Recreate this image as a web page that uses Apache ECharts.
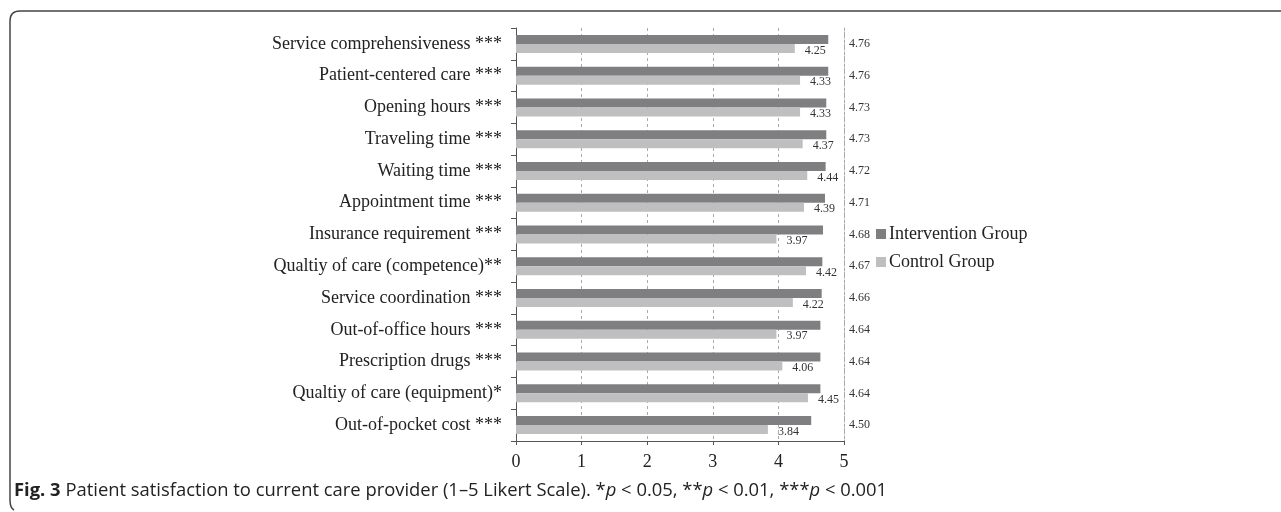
<!DOCTYPE html>
<html>
<head>
<meta charset="utf-8">
<script src="https://cdn.jsdelivr.net/npm/echarts@6/dist/echarts.min.js"></script>
<style>
  html, body { margin: 0; padding: 0; background: #fff; }
  #chart { width: 1281px; height: 512px; }
</style>
</head>
<body>
<div id="chart"></div>
<script>
const categories = [
  'Service comprehensiveness ***',
  'Patient-centered care ***',
  'Opening hours ***',
  'Traveling time ***',
  'Waiting time ***',
  'Appointment time ***',
  'Insurance requirement ***',
  'Qualtiy of care (competence)**',
  'Service coordination ***',
  'Out-of-office hours ***',
  'Prescription drugs ***',
  'Qualtiy of care (equipment)*',
  'Out-of-pocket cost ***'
]
const intervention = [4.76, 4.76, 4.73, 4.73, 4.72, 4.71, 4.68, 4.67, 4.66, 4.64, 4.64, 4.64, 4.50]
const control = [4.25, 4.33, 4.33, 4.37, 4.44, 4.39, 3.97, 4.42, 4.22, 3.97, 4.06, 4.45, 3.84]
const xTicks = [0, 1, 2, 3, 4, 5]

const serif = 'Liberation Serif'
const frameStyle = { fill: null, stroke: '#444', lineWidth: 1.5 }
let chart = echarts.init(document.getElementById('chart'))
let option = {
  animation: false,
  backgroundColor: '#fff',
  grid: {
    left: 516,
    right: 437,
    top: 28,
    bottom: 71,
    containLabel: false,
    outerBoundsMode: 'none'
  },
  legend: {
    orient: 'vertical',
    left: 871,
    top: 220,
    itemWidth: 10,
    itemHeight: 10,
    itemGap: 10,
    icon: 'rect',
    textStyle: { fontFamily: serif, fontSize: 18, color: '#222', padding: [0, 0, 0, -2] },
    data: ['Intervention Group', 'Control Group']
  },
  xAxis: {
    type: 'value',
    min: xTicks[0],
    max: xTicks[xTicks.length - 1],
    interval: 1,
    axisLine: { show: true, lineStyle: { color: '#555', width: 1 } },
    axisTick: { show: true, length: 4, lineStyle: { color: '#555' } },
    axisLabel: { fontFamily: serif, fontSize: 18, color: '#222', margin: 12 },
    splitLine: { show: true, lineStyle: { color: '#aaa', type: [3, 3] } }
  },
  yAxis: [
    {
      type: 'category',
      data: categories,
      inverse: true,
      axisLine: { show: true, lineStyle: { color: '#555' } },
      axisTick: { show: true, length: 5, lineStyle: { color: '#555' } },
      axisLabel: { fontFamily: serif, fontSize: 18, color: '#222', margin: 14 }
    },
    {
      type: 'category',
      data: categories,
      inverse: true,
      position: 'right',
      axisLine: { show: true, lineStyle: { color: '#aaa', type: [2, 2] } },
      axisTick: { show: false },
      axisLabel: {
        fontFamily: serif, fontSize: 12, color: '#333', margin: 5,
        formatter: function (v, i) { return intervention[i].toFixed(2) }
      }
    }
  ],
  series: [
    {
      name: 'Intervention Group',
      type: 'bar',
      data: intervention,
      barWidth: 9,
      barGap: '0%',
      itemStyle: { color: '#7f7f81' }
    },
    {
      name: 'Control Group',
      type: 'bar',
      data: control,
      barWidth: 9,
      barGap: '0%',
      itemStyle: { color: '#bfbfc1' },
      label: {
        show: true,
        position: 'right',
        distance: 10,
        offset: [0, 2],
        fontFamily: serif,
        fontSize: 12,
        color: '#333',
        formatter: function (p) { return p.value.toFixed(2) }
      }
    }
  ],
  graphic: [
    // frame: top line and left edge with rounded corners
    { type: 'line', shape: { x1: 1281, y1: 11, x2: 20, y2: 11 }, style: frameStyle },
    { type: 'bezierCurve', shape: { x1: 20, y1: 11, cpx1: 10, cpy1: 11, x2: 10, y2: 21 }, style: frameStyle },
    { type: 'line', shape: { x1: 10, y1: 21, x2: 10, y2: 500 }, style: frameStyle },
    { type: 'bezierCurve', shape: { x1: 10, y1: 500, cpx1: 10, cpy1: 508, x2: 14, y2: 510 }, style: frameStyle },
    {
      type: 'text',
      left: 14,
      top: 482,
      style: {
        text: '{b|Fig. 3} Patient satisfaction to current care provider (1–5 Likert Scale). *{i|p} < 0.05, **{i|p} < 0.01, ***{i|p} < 0.001',
        font: '18.4px "Open Sans"',
        fill: '#222',
        rich: {
          b: { fontFamily: 'Open Sans', fontSize: 18.4, fontWeight: 'bold', fill: '#222' },
          i: { fontFamily: 'Open Sans', fontSize: 18.4, fontStyle: 'italic', fill: '#222' }
        }
      }
    }
  ]
}
option && chart.setOption(option)
</script>
</body>
</html>
